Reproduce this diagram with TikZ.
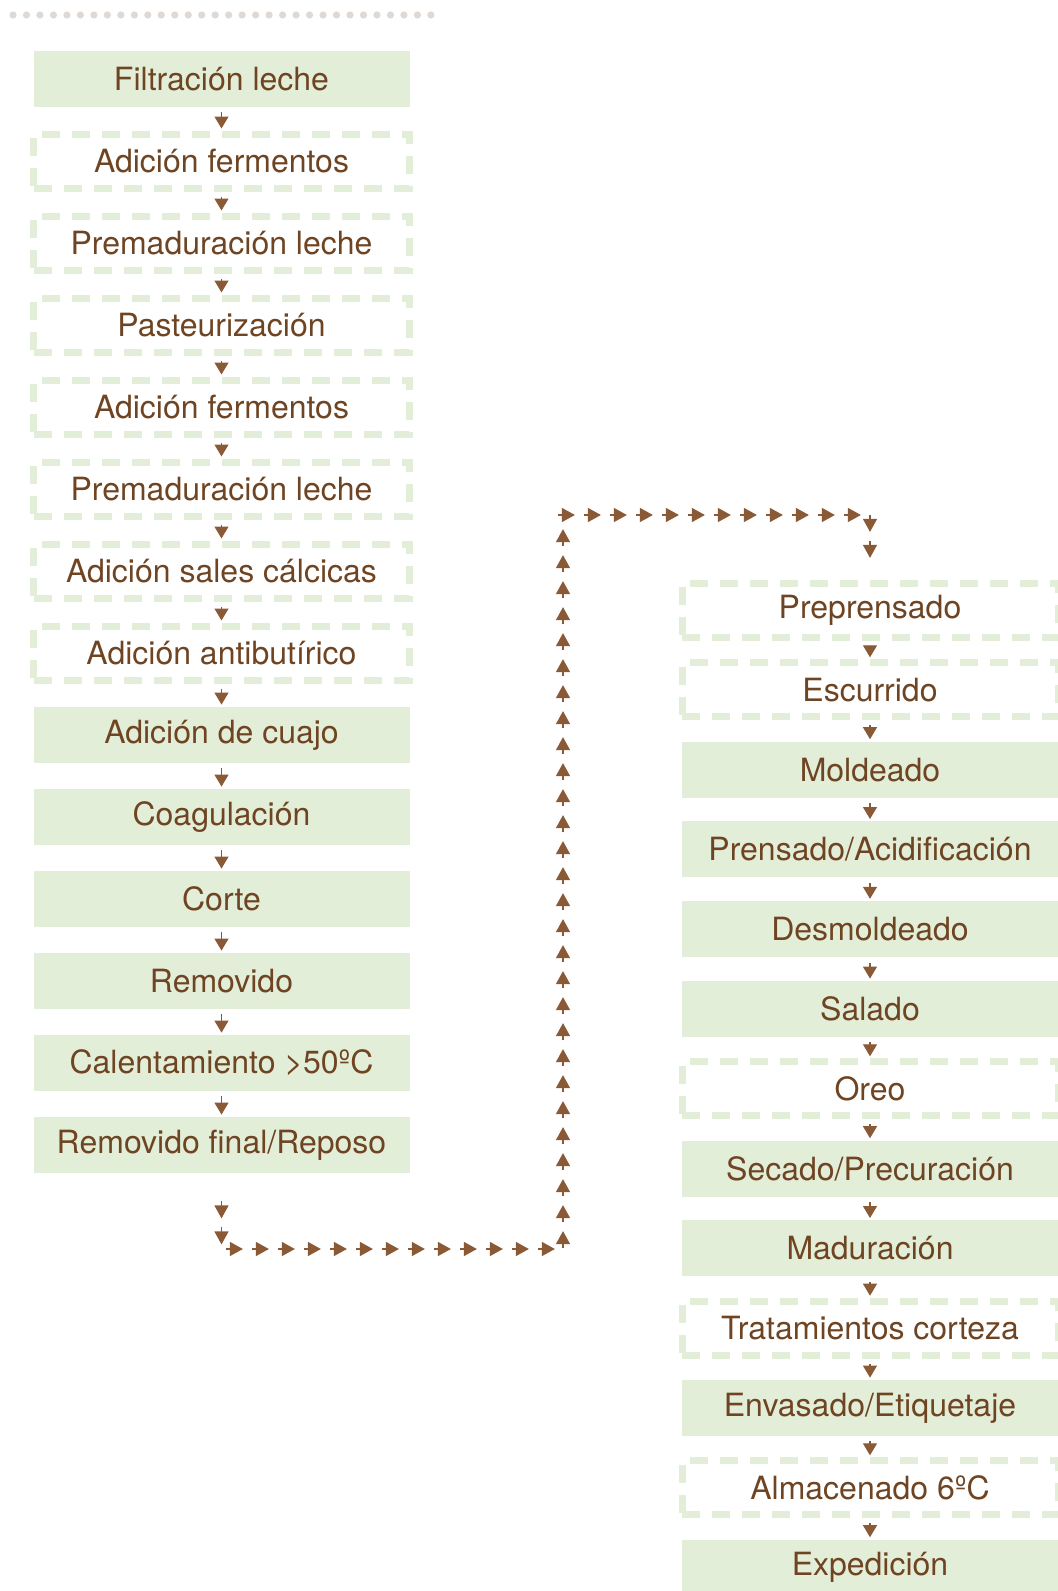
\documentclass[tikz,border=0pt]{standalone}
\usepackage{fontspec}
\setmainfont{TeX Gyre Heros}
\usetikzlibrary{positioning,arrows.meta,decorations.markings}

\definecolor{boxgreen}{RGB}{227,238,217}
\definecolor{textbrown}{RGB}{110,68,34}
\definecolor{arrowbrown}{RGB}{138,90,54}
\definecolor{dotgrey}{RGB}{224,216,210}

\tikzset{
  flowtip/.style={draw=arrowbrown,fill=arrowbrown,line width=0.6pt,-{Triangle[width=7pt,length=6.5pt]}},
  dotflow/.style={decoration={markings,
      mark=between positions 22.5pt and 1 step 13pt with {\draw[flowtip] (-8.5pt,0) -- (0,0);}},
    postaction=decorate}
}

\begin{document}
\begin{tikzpicture}[x=0.5pt,y=-0.5pt,node distance=41pt,
    flow/.style={draw=arrowbrown,fill=arrowbrown,line width=0.6pt,-{Triangle[width=7pt,length=6pt]},shorten <=2.5pt,shorten >=1pt},
    solidbox/.style={fill=boxgreen,minimum width=188pt,minimum height=28pt,inner sep=0pt,text=textbrown,font=\fontsize{16pt}{19pt}\selectfont},
    dashbox/.style={solidbox,fill=none,draw=boxgreen,line width=3.5pt,dash pattern=on 9pt off 6pt,minimum height=27pt}]
    \useasboundingbox (0,0) rectangle (1057,1591);

    % dotted rule at the top
    \draw[dotgrey,line width=3.6pt,line cap=round,dash pattern=on 0pt off 6.74pt] (13,15) -- (433,15);

    % first column
    \node[solidbox] (filtr) at (221.5,79) {Filtración leche};
    \node[dashbox] (adfer1) [below of=filtr] {Adición fermentos};
    \node[dashbox] (premad1) [below of=adfer1] {Premaduración leche};
    \node[dashbox] (paste) [below of=premad1] {Pasteurización};
    \node[dashbox] (adfer2) [below of=paste] {Adición fermentos};
    \node[dashbox] (premad2) [below of=adfer2] {Premaduración leche};
    \node[dashbox] (sales) [below of=premad2] {Adición sales cálcicas};
    \node[dashbox] (antib) [below of=sales] {Adición antibutírico};
    \node[solidbox] (cuajo) [below of=antib] {Adición de cuajo};
    \node[solidbox] (coag) [below of=cuajo] {Coagulación};
    \node[solidbox] (corte) [below of=coag] {Corte};
    \node[solidbox] (remov) [below of=corte] {Removido};
    \node[solidbox] (calent) [below of=remov] {Calentamiento >50ºC};
    \node[solidbox] (remfin) [below of=calent] {Removido final/Reposo};

    % second column
    \begin{scope}[node distance=39.9pt]
    \node[dashbox] (prepr) at (870,610) {Preprensado};
    \node[dashbox] (escur) [below of=prepr] {Escurrido};
    \node[solidbox] (molde) [below of=escur] {Moldeado};
    \node[solidbox] (prens) [below of=molde] {Prensado/Acidificación};
    \node[solidbox] (desmo) [below of=prens] {Desmoldeado};
    \node[solidbox] (salad) [below of=desmo] {Salado};
    \node[dashbox] (oreo) [below of=salad] {Oreo};
    \node[solidbox] (secad) [below of=oreo] {Secado/Precuración};
    \node[solidbox] (madur) [below of=secad] {Maduración};
    \node[dashbox] (tratam) [below of=madur] {Tratamientos corteza};
    \node[solidbox] (envas) [below of=tratam] {Envasado/Etiquetaje};
    \node[dashbox] (almac) [below of=envas] {Almacenado 6ºC};
    \node[solidbox] (exped) [below of=almac] {Expedición};
    \end{scope}

    \path[flow]
        (filtr) edge (adfer1)
        (adfer1) edge (premad1)
        (premad1) edge (paste)
        (paste) edge (adfer2)
        (adfer2) edge (premad2)
        (premad2) edge (sales)
        (sales) edge (antib)
        (antib) edge (cuajo)
        (cuajo) edge (coag)
        (coag) edge (corte)
        (corte) edge (remov)
        (remov) edge (calent)
        (calent) edge (remfin)
    ;

    \path[flow]
        (prepr) edge (escur)
        (escur) edge (molde)
        (molde) edge (prens)
        (prens) edge (desmo)
        (desmo) edge (salad)
        (salad) edge (oreo)
        (oreo) edge (secad)
        (secad) edge (madur)
        (madur) edge (tratam)
        (tratam) edge (envas)
        (envas) edge (almac)
        (almac) edge (exped)
    ;

    % link between the two columns
    \coordinate (low) at (563,1249);
    \coordinate (high) at (563,515);
    \path[dotflow] (remfin.south) |- (low) -- (high) -| (prepr.north);
\end{tikzpicture}
\end{document}
